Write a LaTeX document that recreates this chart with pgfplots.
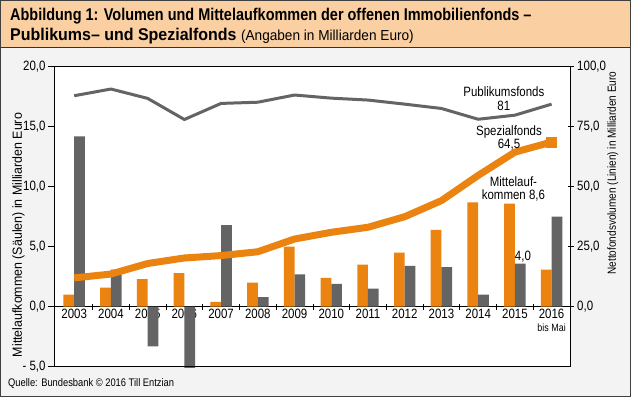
\documentclass[border=0pt]{standalone}
\usepackage{pgfplots}
\pgfplotsset{compat=1.18}
\usepackage{fontspec}
\setmainfont{Liberation Sans}[FakeStretch=0.85]
\newfontfamily\wider{Liberation Sans}[FakeStretch=0.94]
\definecolor{ora}{RGB}{235,131,16}
\definecolor{gry}{RGB}{100,100,100}
\definecolor{band}{RGB}{250,207,162}
\definecolor{bg}{RGB}{243,243,243}
\begin{document}
\begin{tikzpicture}[x=1pt,y=1pt]
\path[use as bounding box] (0,0) rectangle (631,397);
\fill[bg] (0,0) rectangle (631,397);
\fill[band] (0,349.5) rectangle (631,397);
\draw[line width=1pt, black!80] (0,349.5) -- (631,349.5);
\fill[white] (54,30.3) rectangle (570.7,330.3);
\draw[line width=1.2pt, black!75] (0.6,0.6) rectangle (630.4,396.4);
\node[anchor=base west, inner sep=0pt, font=\bfseries\fontsize{17}{17}\selectfont] at (10,376) {Abbildung 1: Volumen und Mittelaufkommen der offenen Immobilienfonds –};
\node[anchor=base west, inner sep=0pt] at (10,356) {\wider\bfseries\fontsize{17}{17}\selectfont Publikums– und Spezialfonds \mdseries\fontsize{14.5}{14.5}\selectfont(Angaben in Milliarden Euro)};
\node[anchor=base west, inner sep=0pt, font=\fontsize{11}{12}\selectfont] at (8,11) {Quelle: Bundesbank © 2016 Till Entzian};
\node[rotate=90, font=\wider\fontsize{13.2}{13.2}\selectfont] at (18.5,162) {Mittelaufkommen (Säulen) in Milliarden Euro};
\node[rotate=90, font=\fontsize{11.8}{11.8}\selectfont] at (612.7,224) {Nettofondsvolumen (Linien) in Milliarden Euro};

\begin{axis}[
  at={(54pt,30.3pt)}, anchor=south west, scale only axis,
  width=516.7pt, height=300pt,
  xmin=-0.55, xmax=13.52, ymin=-5, ymax=20,
  axis y line*=left, axis x line*=middle, clip=false,
  axis line style={black, line width=0.8pt, -},
  xtick={0.5,1.5,...,12.5}, xticklabels={},
  xtick align=center, major tick length=6pt,
  extra x ticks={0,1,...,13},
  extra x tick labels={2003,2004,2005,2006,2007,2008,2009,2010,2011,2012,2013,2014,2015,{2016\\[-1pt]{\fontsize{10.5}{10.5}\selectfont bis Mai}}},
  extra x tick style={major tick length=0pt, xticklabel style={align=center, anchor=north, yshift=1pt}},
  ytick={-5,0,5,10,15,20},
  yticklabels={{- 5,0},{0,0},{5,0},{10,0},{15,0},{20,0}},
  ytick align=outside,
  tick style={black, line width=0.8pt},
  tick label style={font=\fontsize{13.5}{13.5}\selectfont},
  yticklabel style={xshift=1pt},
  /pgf/number format/assume math mode=true,
]
\addplot[ybar, bar width=10.7pt, bar shift=-5.35pt, fill=ora, draw=none] coordinates {
 (0,1.0) (1,1.6) (2,2.3) (3,2.8) (4,0.4) (5,2.0) (6,5.0) (7,2.4) (8,3.5) (9,4.5) (10,6.4) (11,8.7) (12,8.6) (13,3.1)};
\addplot[ybar, bar width=10.7pt, bar shift=5.35pt, fill=gry, draw=none] coordinates {
 (0,14.2) (1,3.1) (2,-3.3) (3,-5.1) (4,6.8) (5,0.8) (6,2.7) (7,1.9) (8,1.5) (9,3.4) (10,3.3) (11,1.0) (12,3.6) (13,7.5)};
\draw[black, line width=0.8pt] (rel axis cs:0,1) -- (rel axis cs:1,1);
\draw[black, line width=0.8pt] (rel axis cs:0,0) -- (rel axis cs:1,0);
\end{axis}

\begin{axis}[
  at={(54pt,30.3pt)}, anchor=south west, scale only axis,
  width=516.7pt, height=300pt,
  xmin=-0.55, xmax=13.52, ymin=-25, ymax=100,
  hide x axis, axis y line*=right, clip=false,
  axis line style={black, line width=0.8pt, -},
  ytick={0,25,50,75,100},
  yticklabels={{0,0},{25,0},{50,0},{75,0},{100,0}},
  ytick align=center, major tick length=6pt,
  tick style={black, line width=0.8pt},
  tick label style={font=\fontsize{13.5}{13.5}\selectfont},
  /pgf/number format/assume math mode=true,
]
\addplot[gry, line width=3pt, line join=round, mark=none] coordinates {
 (0,87.9) (1,90.7) (2,86.8) (3,78.0) (4,84.7) (5,85.2) (6,88.2) (7,86.9) (8,86.1) (9,84.4) (10,82.6) (11,78.1) (12,79.8) (13,84.4)};
\addplot[ora, line width=7pt, line join=round, mark=none] coordinates {
 (0,12.0) (1,13.6) (2,18.0) (3,20.3) (4,21.3) (5,22.9) (6,28.2) (7,31.0) (8,33.1) (9,37.5) (10,44.2) (11,54.7) (12,64.4) (13,68.6)};
\addplot[ora, only marks, mark=square*, mark size=5pt, mark options={line width=0pt}] coordinates {(13,68.6)};
\node[align=center, font=\fontsize{13.5}{13.5}\selectfont] at (axis cs:11.70,86.7) {Publikumsfonds\\81};
\node[align=center, font=\fontsize{13.5}{13.5}\selectfont] at (axis cs:11.84,70.4) {Spezialfonds\\64,5};
\node[align=center, font=\fontsize{13.5}{13.5}\selectfont] at (axis cs:11.96,49.0) {Mittelauf-\\kommen 8,6};
\node[font=\fontsize{13.5}{13.5}\selectfont] at (axis cs:12.22,20.8) {4,0};
\end{axis}
\end{tikzpicture}
\end{document}
